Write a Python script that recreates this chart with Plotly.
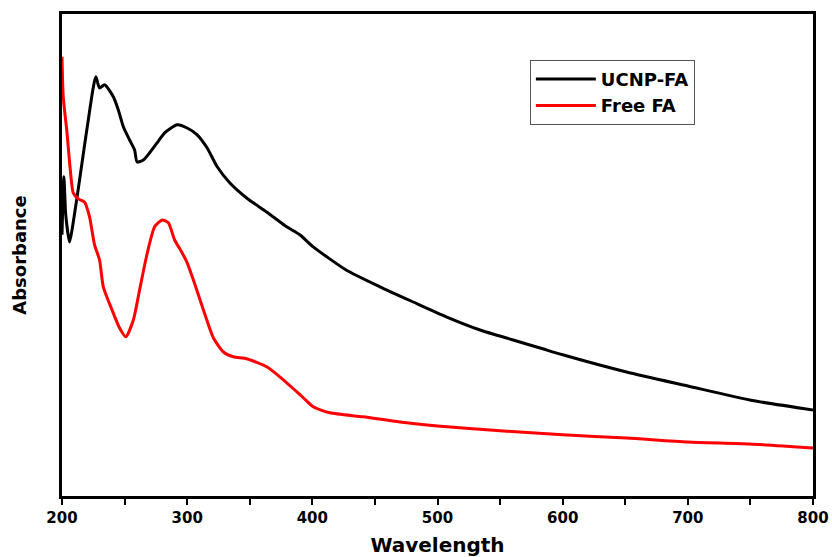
import plotly.graph_objects as go

# UCNP-FA (black) absorbance, arbitrary units
ucnp_wl = [200, 201.5, 203, 206, 208, 211.7, 216, 221, 227, 230, 234, 241, 245, 249, 254, 258, 260, 265,
           270, 276, 282, 292, 300, 308, 316, 324, 334, 347.5, 363.5, 379.5, 390, 400.7, 427, 454, 480.6,
           507, 534, 560.5, 582, 600, 651, 700, 749.5, 800]
ucnp_abs = [0.653, 0.798, 0.703, 0.635, 0.665, 0.74, 0.833, 0.94, 1.048, 1.02, 1.028, 0.998, 0.965, 0.923,
            0.89, 0.865, 0.835, 0.84, 0.858, 0.883, 0.908, 0.928, 0.92, 0.903, 0.87, 0.823, 0.783, 0.745,
            0.71, 0.673, 0.653, 0.623, 0.565, 0.523, 0.485, 0.448, 0.415, 0.39, 0.37, 0.353, 0.31, 0.275,
            0.24, 0.215]

# Free FA (red) absorbance, arbitrary units
fa_wl = [200, 201, 204, 206.4, 209, 213, 218, 222, 226, 230, 233, 240, 246, 251, 257, 262, 267.6, 274, 280,
         285, 290, 295.6, 300, 305, 313, 321, 329, 337, 347.5, 363.5, 374, 386, 393, 400.7, 414, 440.6, 470,
         500, 550, 600, 651, 700, 749.5, 800]
fa_abs = [1.098, 0.998, 0.908, 0.823, 0.758, 0.743, 0.735, 0.698, 0.628, 0.59, 0.523, 0.465, 0.42, 0.398,
          0.44, 0.515, 0.6, 0.673, 0.69, 0.683, 0.64, 0.61, 0.583, 0.54, 0.465, 0.395, 0.36, 0.348, 0.343,
          0.323, 0.298, 0.265, 0.245, 0.223, 0.208, 0.198, 0.185, 0.175, 0.163, 0.153, 0.145, 0.135, 0.13,
          0.12]

x_ticks = [200, 300, 400, 500, 600, 700, 800]

FONT = "DejaVu Sans, Liberation Sans, Arial, sans-serif"

fig = go.Figure()
fig.add_trace(go.Scatter(x=ucnp_wl, y=ucnp_abs, mode="lines", name="UCNP-FA",
                         line=dict(color="black", width=3, shape="spline", smoothing=0.6)))
fig.add_trace(go.Scatter(x=fa_wl, y=fa_abs, mode="lines", name="Free FA",
                         line=dict(color="#ff0000", width=3, shape="spline", smoothing=0.6)))

fig.update_layout(
    width=832, height=557,
    margin=dict(l=62, r=19, t=14, b=61, autoexpand=False),
    plot_bgcolor="white", paper_bgcolor="white",
    font=dict(family=FONT, color="black"),
    showlegend=True,
    legend=dict(x=0.623, y=0.905, xanchor="left", yanchor="top",
                bordercolor="#555555", borderwidth=1, bgcolor="white",
                font=dict(size=18, weight="bold"), itemwidth=60,
                tracegroupgap=0),
    xaxis=dict(range=[200, 800], tickvals=x_ticks, ticks="outside", ticklen=6, tickwidth=2,
               tickcolor="black", automargin=False,
               minor=dict(dtick=50, tick0=200, ticks="outside", ticklen=6, tickwidth=2, tickcolor="black"),
               showline=True, linecolor="black", linewidth=3, mirror=True, showgrid=False, zeroline=False,
               tickfont=dict(size=15, weight="bold"),
               title=dict(text="Wavelength", font=dict(size=20, weight="bold"), standoff=12)),
    yaxis=dict(range=[0, 1.205], showticklabels=False, ticks="", showline=True, linecolor="black",
               linewidth=3, mirror=True, showgrid=False, zeroline=False, automargin=False,
               title=dict(text="Absorbance", font=dict(size=18, weight="bold"), standoff=28)),
)

# remove the browser's default 8px body margin so the figure fills the window exactly
fig.write_html("out.html", config={"displayModeBar": False},
               post_script="document.body.style.margin='0px';document.body.style.overflow='hidden';")
